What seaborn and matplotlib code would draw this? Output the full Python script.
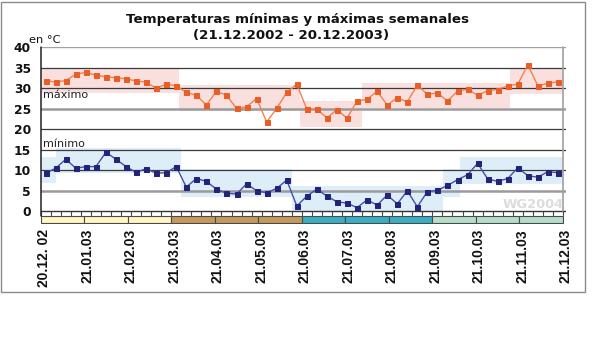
import matplotlib
matplotlib.use("Agg")
import matplotlib.pyplot as plt
from matplotlib.patches import Rectangle
import seaborn as sns
import numpy as np
import pandas as pd

# ---------------- data ----------------
weeks = list(range(52))
max_vals = [31.9, 31.5, 31.9, 33.4, 33.9, 33.2, 32.8, 32.6, 32.3, 31.8, 31.5, 30.0,
            31.0, 30.6, 29.0, 28.3, 25.9, 29.3, 28.3, 25.1, 25.5, 27.5, 21.8, 25.1,
            29.0, 31.0, 24.9, 24.9, 22.8, 24.8, 22.7, 26.9, 27.3, 29.3, 25.9, 27.7,
            26.7, 30.8, 28.5, 28.9, 26.9, 29.3, 29.8, 28.3, 29.4, 29.7, 30.6, 31.0,
            35.7, 30.6, 31.2, 31.6]
min_vals = [9.3, 10.5, 12.7, 10.5, 10.9, 10.9, 14.4, 12.7, 10.9, 9.5, 10.4, 9.3,
            9.4, 10.9, 5.9, 8.0, 7.3, 5.4, 4.4, 4.2, 6.7, 5.0, 4.5, 5.6, 7.6, 1.3,
            3.7, 5.4, 3.7, 2.3, 2.0, 0.9, 2.8, 1.5, 4.0, 1.8, 5.0, 1.1, 4.8, 5.1,
            6.3, 7.7, 8.9, 11.7, 7.9, 7.3, 8.0, 10.6, 8.7, 8.3, 9.7, 9.4]

# shaded ranges (week index start, end, low, high)
max_band_start = [-0.5, 13.3, 25.3, 31.5, 46.2]
max_band_end = [13.3, 25.3, 31.5, 46.2, 51.5]
max_band_low = [28.8, 24.5, 20.6, 25.1, 28.7]
max_band_high = [35.0, 30.8, 27.0, 31.3, 35.0]

min_band_start = [-0.5, 1.0, 13.5, 24.5, 39.6, 41.2]
min_band_end = [1.0, 13.5, 24.5, 39.6, 41.2, 51.5]
min_band_low = [7.0, 9.3, 3.6, 0.0, 3.6, 6.7]
min_band_high = [13.3, 15.4, 10.2, 6.2, 10.2, 13.3]

month_labels = ["20.12. 02", "21.01.03", "21.02.03", "21.03.03", "21.04.03", "21.05.03",
                "21.06.03", "21.07.03", "21.08.03", "21.09.03", "21.10.03", "21.11.03",
                "21.12.03"]
season_months = [3, 3, 3, 3]
season_colors = ["#FFF6C4", "#C49A5C", "#38AFC2", "#B5DEC9"]

y_ticks = [0, 5, 10, 15, 20, 25, 30, 35, 40]

# ---------------- figure ----------------
sns.set_theme(style="white")
plt.rcParams['font.family'] = ['DejaVu Sans']

W, H = 600, 346
fig = plt.figure(figsize=(W / 100, H / 100), dpi=100)

def fx(px):
    return px / W

def fy(py):
    return 1 - py / H

ax_left, ax_right, ax_top, ax_bot = 40.65, 566, 47.3, 223.5
ax = fig.add_axes([fx(ax_left), fy(ax_bot), fx(ax_right - ax_left), (ax_bot - ax_top) / H])
ppu = (211.3 - 47.3) / 40.0
ymin = -(ax_bot - 211.3) / ppu
ax.set_xlim(-0.5, 51.5)
ax.set_ylim(ymin, 40)
for s in ax.spines.values():
    s.set_visible(False)
ax.patch.set_alpha(0)

# bands
for x0, x1, lo, hi in zip(max_band_start, max_band_end, max_band_low, max_band_high):
    ax.add_patch(Rectangle((x0, lo), x1 - x0, hi - lo, facecolor="#FADFDF",
                           edgecolor="none", zorder=1))
for x0, x1, lo, hi in zip(min_band_start, min_band_end, min_band_low, min_band_high):
    ax.add_patch(Rectangle((x0, lo), x1 - x0, hi - lo, facecolor="#DEEEF9",
                           edgecolor="none", zorder=1))

# grid lines
for v in [10, 15, 20, 30, 35]:
    ax.axhline(v, color="#3a3a3a", lw=0.9, zorder=2)
for v in [5, 25]:
    ax.axhline(v, color="#9a9a9a", lw=1.8, zorder=2)
ax.axhline(40, color="#a0a0a0", lw=1.0, zorder=2)
ax.axhline(0, color="#333333", lw=1.0, zorder=2)
ax.plot([51.5, 51.5], [0, 40], color="#a0a0a0", lw=1.2, zorder=2, clip_on=False)
ax.plot([-0.5, -0.5], [-1.15, 40], color="#222222", lw=1.1, zorder=5, clip_on=False)

# series
df = pd.DataFrame({"semana": weeks, "max": max_vals, "min": min_vals})
sns.lineplot(data=df, x="semana", y="max", ax=ax, color="#F2814F", lw=1.0,
             marker="s", markersize=3.6, markerfacecolor="#E85E25",
             markeredgecolor="#E85E25", zorder=4)
sns.lineplot(data=df, x="semana", y="min", ax=ax, color="#4350A2", lw=1.0,
             marker="s", markersize=3.6, markerfacecolor="#23237A",
             markeredgecolor="#23237A", zorder=4)

# week tick row
for k in range(53):
    xx = -0.5 + k
    ax.plot([xx, xx], [0, -0.85], color="#444444", lw=0.8, zorder=3)

# season bar
month_w = 52 / 12
bar_top, bar_bot = -1.15, -2.8
m = 0
for n, col in zip(season_months, season_colors):
    for j in range(n):
        x0 = -0.5 + (m + j) * month_w
        ax.add_patch(Rectangle((x0, bar_bot), month_w, bar_top - bar_bot,
                               facecolor=col, edgecolor="#4a4a4a", lw=0.8, zorder=3))
    m += n

# ticks & labels
ax.set_yticks(y_ticks)
ax.set_yticklabels([str(v) for v in y_ticks], fontweight="bold", fontsize=8.8,
                   color="#111111")
month_pos = [-0.5 + k * month_w + 0.3 for k in range(13)]
ax.set_xticks(month_pos)
ax.set_xticklabels(month_labels, rotation=90, fontweight="bold", fontsize=10,
                   family=["Liberation Sans", "DejaVu Sans"], color="#111111")
ax.tick_params(axis="y", length=0, pad=7)
ax.tick_params(axis="x", length=0, pad=4)
ax.set_xlabel("")
ax.set_ylabel("")
ax.grid(False)

# texts
fig.text(fx(298), fy(23.5), "Temperaturas mínimas y máximas semanales",
         ha="center", va="baseline", fontsize=9.6, fontweight="bold", color="#111111")
fig.text(fx(291), fy(39.5), "(21.12.2002 - 20.12.2003)",
         ha="center", va="baseline", fontsize=9.6, fontweight="bold", color="#111111")
fig.text(fx(29), fy(43), "en °C", ha="left", va="baseline", fontsize=8.2, color="#111111")
fig.text(fx(42.5), fy(98.3), "máximo", ha="left", va="baseline", fontsize=8, color="#222222")
fig.text(fx(42.5), fy(147.3), "mínimo", ha="left", va="baseline", fontsize=8, color="#222222")
fig.text(fx(564), fy(208.3), "WG2004", ha="right", va="baseline", fontsize=9.4,
         fontweight="bold", color="#DCDCDC")

# outer frame
fig.patches.append(Rectangle((fx(1), fy(292)), fx(584), 290 / H, transform=fig.transFigure,
                             fill=False, edgecolor="#8a8a8a", lw=1.0))

fig.savefig("out.png", dpi=100)
